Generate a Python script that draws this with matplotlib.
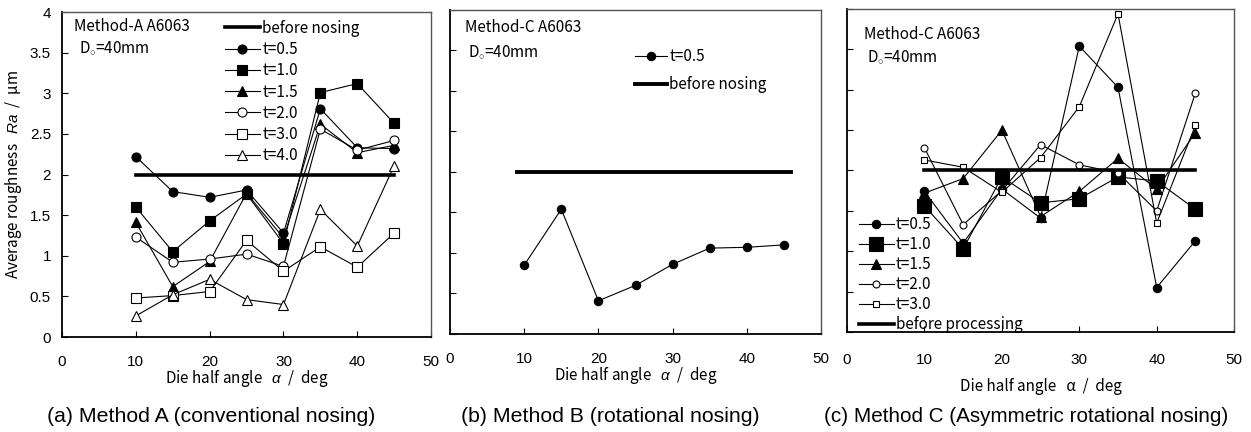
import matplotlib
matplotlib.use('Agg')
import matplotlib.pyplot as plt

plt.rcParams['font.family'] = ['Noto Sans CJK JP', 'DejaVu Sans']
plt.rcParams['mathtext.fontset'] = 'custom'
plt.rcParams['mathtext.it'] = 'Liberation Sans:italic'
plt.rcParams['mathtext.rm'] = 'Liberation Sans'

# ── Data ──────────────────────────────────────────────────────────────────
angles = [10, 15, 20, 25, 30, 35, 40, 45]
before_span = [10, 45]
before_level = 2.0

# (a) Method A
a_t05 = [2.22, 1.79, 1.72, 1.81, 1.28, 2.81, 2.33, 2.32]
a_t10 = [1.60, 1.05, 1.43, 1.76, 1.15, 3.01, 3.12, 2.63]
a_t15 = [1.41, 0.62, 0.93, 1.77, 1.22, 2.62, 2.27, 2.36]
a_t20 = [1.23, 0.92, 0.96, 1.02, 0.87, 2.56, 2.30, 2.42]
a_t30 = [0.48, 0.51, 0.56, 1.19, 0.81, 1.11, 0.86, 1.28]
a_t40 = [0.26, 0.52, 0.71, 0.46, 0.40, 1.57, 1.12, 2.11]

# (b) Method B
b_t05 = [0.85, 1.54, 0.41, 0.60, 0.86, 1.06, 1.07, 1.10]
b_span = [9, 46]

# (c) Method C
c_t05 = [1.74, 1.10, 1.77, 1.41, 3.54, 3.03, 0.55, 1.13]
c_t10 = [1.56, 1.03, 1.92, 1.60, 1.65, 1.92, 1.87, 1.52]
c_t15 = [1.72, 1.90, 2.50, 1.43, 1.74, 2.15, 1.77, 2.47]
c_t20 = [2.28, 1.33, 1.75, 2.32, 2.07, 1.97, 1.50, 2.96]
c_t30 = [2.13, 2.04, 1.73, 2.16, 2.79, 3.94, 1.35, 2.56]

xticks = [0, 10, 20, 30, 40, 50]
yticks = [0, 0.5, 1, 1.5, 2, 2.5, 3, 3.5, 4]
ytick_labels = ['0', '0.5', '1', '1.5', '2', '2.5', '3', '3.5', '4']

captions = ['(a) Method A (conventional nosing)',
            '(b) Method B (rotational nosing)',
            '(c) Method C (Asymmetric rotational nosing)']
caption_x = [0.169, 0.488, 0.820]   # figure fraction
caption_fs = [15.3, 15.3, 14.9]

TICK_FONT = 'Liberation Sans'
FS = 11


def style_axes(ax, ylabels=False, xpad=13):
    ax.set_xlim(0, 50)
    ax.set_ylim(0, 4)
    ax.set_xticks(xticks)
    ax.set_yticks(yticks)
    ax.tick_params(direction='in', length=4, width=0.8, labelsize=11,
                   colors='black')
    ax.tick_params(axis='x', pad=xpad)
    ax.tick_params(axis='y', pad=8)
    for lab in ax.get_xticklabels():
        lab.set_fontfamily(TICK_FONT)
    if ylabels:
        ax.set_yticklabels(ytick_labels, fontfamily=TICK_FONT)
    else:
        ax.set_yticklabels([])
    for s in ['top', 'right']:
        ax.spines[s].set_color('#555')
        ax.spines[s].set_linewidth(1.0)
    for s in ['left', 'bottom']:
        ax.spines[s].set_color('black')
        ax.spines[s].set_linewidth(1.3)


def series(ax, y, marker, filled, ms, label):
    ax.plot(angles, y, color='black', lw=0.8, marker=marker, ms=ms,
            mfc='black' if filled else 'white', mec='black', mew=0.8,
            label=label)


fig = plt.figure(figsize=(12.51, 4.32), dpi=100)
ax_a = fig.add_axes([0.0496, 0.2199, 0.295, 0.752])
ax_b = fig.add_axes([0.3597, 0.2269, 0.2966, 0.750])
ax_c = fig.add_axes([0.6771, 0.2315, 0.3094, 0.7477])

# ── (a) ───────────────────────────────────────────────────────────────────
ax = ax_a
ax.plot(before_span, [before_level] * 2, color='black', lw=2.6,
        label='before nosing')
series(ax, a_t05, 'o', True, 6.5, 't=0.5')
series(ax, a_t10, 's', True, 6.5, 't=1.0')
series(ax, a_t15, '^', True, 6.5, 't=1.5')
series(ax, a_t20, 'o', False, 6.5, 't=2.0')
series(ax, a_t30, 's', False, 6.5, 't=3.0')
series(ax, a_t40, '^', False, 6.5, 't=4.0')
style_axes(ax, ylabels=True)
ax.set_ylabel('Average roughness   $\\it{Ra}$  /  μm', fontsize=FS, labelpad=4)
ax.set_xlabel('Die half angle   $\\it{α}$  /  deg', fontsize=FS, labelpad=-1)
ax.text(0.032, 0.955, 'Method-A A6063', transform=ax.transAxes,
        fontsize=FS, va='center')
ax.text(0.046, 0.888, 'D$_{\\circ}$=40mm', transform=ax.transAxes,
        fontsize=FS, va='center')
ax.legend(loc='upper left', bbox_to_anchor=(0.41, 1.012), frameon=False,
          fontsize=FS, handlelength=2.3, handletextpad=0.15,
          labelspacing=0.28, borderpad=0.25)

# ── (b) ───────────────────────────────────────────────────────────────────
ax = ax_b
series(ax, b_t05, 'o', True, 6, 't=0.5')
ax.plot(b_span, [before_level] * 2, color='black', lw=2.8,
        label='before nosing')
style_axes(ax)
ax.set_xlabel('Die half angle   $\\it{α}$  /  deg', fontsize=FS, labelpad=-1)
ax.text(0.04, 0.945, 'Method-C A6063', transform=ax.transAxes,
        fontsize=FS, va='center')
ax.text(0.048, 0.87, 'D$_{\\circ}$=40mm', transform=ax.transAxes,
        fontsize=FS, va='center')
ax.legend(loc='upper left', bbox_to_anchor=(0.47, 0.915), frameon=False,
          fontsize=FS, handlelength=2.1, handletextpad=0.15,
          labelspacing=0.72, borderpad=0.2)

# ── (c) ───────────────────────────────────────────────────────────────────
ax = ax_c
series(ax, c_t05, 'o', True, 6, 't=0.5')
series(ax, c_t10, 's', True, 9.5, 't=1.0')
series(ax, c_t15, '^', True, 6.5, 't=1.5')
series(ax, c_t20, 'o', False, 5, 't=2.0')
series(ax, c_t30, 's', False, 5, 't=3.0')
ax.plot(before_span, [before_level] * 2, color='black', lw=2.6,
        label='before processing')
style_axes(ax, xpad=15)
ax.set_xlabel('Die half angle   α  /  deg', fontsize=FS, labelpad=8)
ax.text(0.045, 0.92, 'Method-C A6063', transform=ax.transAxes,
        fontsize=FS, va='center')
ax.text(0.052, 0.852, 'D$_{\\circ}$=40mm', transform=ax.transAxes,
        fontsize=FS, va='center')
ax.legend(loc='lower left', bbox_to_anchor=(0.0, -0.04), frameon=False,
          fontsize=FS, handlelength=2.3, handletextpad=0.15,
          labelspacing=0.2, borderpad=0.25)

# ── captions ──────────────────────────────────────────────────────────────
for cx, cap, fs in zip(caption_x, captions, caption_fs):
    fig.text(cx, 0.035, cap, ha='center', va='center', fontsize=fs,
             fontfamily='Liberation Sans')

fig.savefig('out.png', dpi=100)
